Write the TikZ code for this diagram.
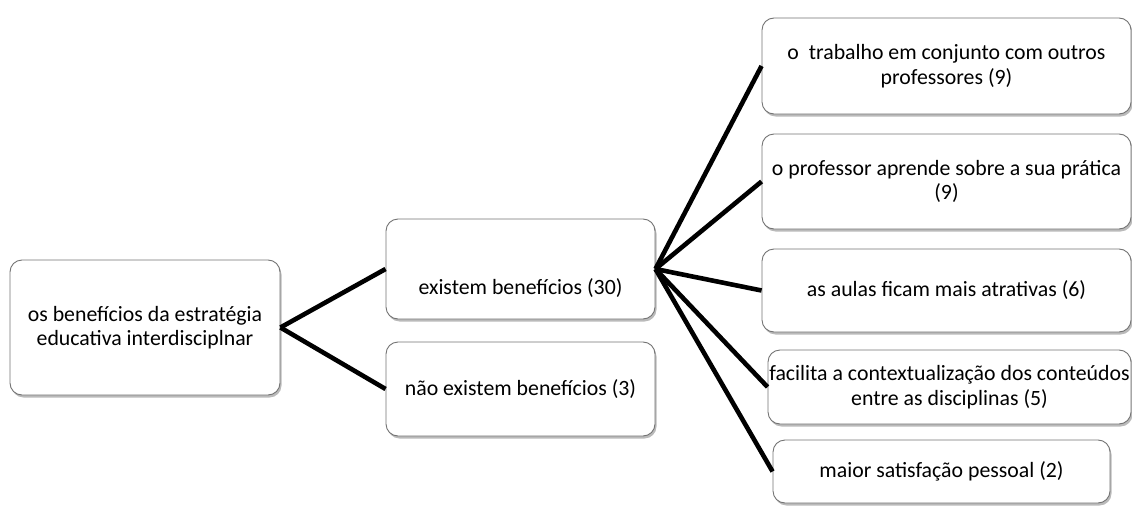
\documentclass[tikz,border=0pt]{standalone}
\usepackage{fontspec}
\setmainfont{Carlito}
\usetikzlibrary{shadows}
\begin{document}
\begin{tikzpicture}[x=1pt,y=-1pt,
  box/.style={draw=black!55,line width=0.9pt,fill=white,rounded corners=12pt,
    inner sep=0pt,align=center,
    font=\fontsize{21.8}{24.5}\selectfont,
    drop shadow={shadow xshift=1.5pt,shadow yshift=-2.5pt,fill=black!45,opacity=0.6}},
  conn/.style={line width=4.6pt,black}]
\useasboundingbox (0,0) rectangle (1132,511);
\node[box,minimum width=270pt,minimum height=135pt] (root) at (145,327.5)
  {os benefícios da estratégia\\educativa interdisciplnar};
\node[box,minimum width=269pt,minimum height=100pt,
  label={[font=\fontsize{21.8}{24.5}\selectfont,yshift=-19pt]center:existem benefícios (30)}] (exist) at (520.5,269) {};
\node[box,minimum width=269pt,minimum height=94pt] (nao) at (520.5,389)
  {não existem benefícios (3)};
\node[box,minimum width=369pt,minimum height=96pt] (b1) at (946.5,66)
  {o\ \ trabalho em conjunto com outros\\professores (9)};
\node[box,minimum width=369pt,minimum height=95pt] (b2) at (946.5,181.5)
  {o professor aprende sobre a sua prática\\(9)};
\node[box,minimum width=369pt,minimum height=83pt] (b3) at (946.5,290.5)
  {as aulas ficam mais atrativas (6)};
\node[box,minimum width=363pt,minimum height=74pt] (b4) at (949.5,387)
  {facilita a contextualização dos conteúdos\\entre as disciplinas (5)};
\node[box,minimum width=337pt,minimum height=63pt] (b5) at (941.5,471.5)
  {maior satisfação pessoal (2)};
\draw[conn] (root.east) -- (exist.west);
\draw[conn] (root.east) -- (nao.west);
\draw[conn] (exist.east) -- (b1.west);
\draw[conn] (exist.east) -- (b2.west);
\draw[conn] (exist.east) -- (b3.west);
\draw[conn] (exist.east) -- (b4.west);
\draw[conn] (exist.east) -- (b5.west);
\end{tikzpicture}
\end{document}
